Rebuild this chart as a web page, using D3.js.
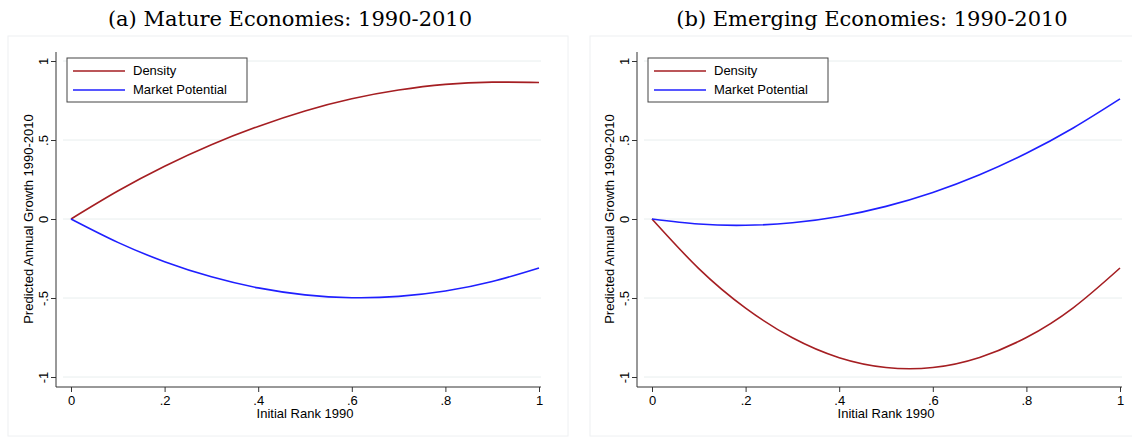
<!DOCTYPE html>
<html lang="en">
<head>
<meta charset="utf-8">
<title>Predicted growth</title>
<script src="https://d3js.org/d3.v7.min.js"></script>
<style>
  body { margin: 0; background: #fff; }
  text { font-family: "Liberation Sans", Arial, sans-serif; }
</style>
</head>
<body>
<script>
var w = 1132, h = 440;

// values
var rank = [0, .1, .2, .3, .4, .5, .6, .7, .8, .9, 1];
var matureDensity = [0, .177, .334, .470, .586, .684, .761, .816, .852, .866, .864];
var matureMarket = [0, -.148, -.270, -.366, -.436, -.480, -.498, -.490, -.456, -.396, -.31];
var emergDensity = [0, -.314, -.564, -.752, -.878, -.940, -.940, -.876, -.750, -.562, -.31];
var emergMarket = [0, -.032, -.040, -.024, .016, .080, .168, .280, .416, .576, .76];
var xTicks = [0, .2, .4, .6, .8, 1];
var yTicks = [-1, -.5, 0, .5, 1];
var seriesNames = ["Density", "Market Potential"];
var colors = ["#a51e22", "#1f1fff"];

var panels = [
  {title: "(a) Mature Economies: 1990-2010", left: 8, x0: 71, x1: 539, series: [matureDensity, matureMarket]},
  {title: "(b) Emerging Economies: 1990-2010", left: 590, x0: 652, x1: 1120, series: [emergDensity, emergMarket]}
];

var fmt = function(d) { return d === 0 || Math.abs(d) === 1 ? String(d) : String(d).replace("0.", "."); };

var svg = d3.select("body").append("svg").attr("width", w).attr("height", h);

panels.forEach(function(p) {
  var g = svg.append("g");
  g.append("rect").attr("x", p.left).attr("y", 36).attr("width", 560).attr("height", 400)
    .attr("fill", "#fff").attr("stroke", "#eef0f2");

  g.append("text").attr("x", p.left + 282).attr("y", 26).attr("text-anchor", "middle")
    .style("font-family", "'DejaVu Serif', 'Liberation Serif', serif").style("font-size", "21px")
    .text(p.title);

  var x = d3.scaleLinear().domain([0, 1]).range([p.x0, p.x1]);
  var y = d3.scaleLinear().domain([-1, 1]).range([377, 61]);

  // grid
  g.selectAll(".grid").data(yTicks).enter().append("line")
    .attr("x1", p.x0 - 8).attr("x2", p.x1 + 2)
    .attr("y1", function(d) { return y(d); }).attr("y2", function(d) { return y(d); })
    .attr("stroke", "#e8eeee").attr("stroke-width", 1);

  var ax = g.append("g").attr("transform", "translate(0,387)")
    .call(d3.axisBottom(x).tickValues(xTicks).tickFormat(fmt).tickSize(5));
  ax.select(".domain").attr("d", "M" + (p.x0 - 15) + ",0H" + (p.x1 + 2));
  ax.selectAll("text").style("font-size", "13px").attr("y", 6).attr("dy", "0.9em");
  ax.selectAll("line, .domain").attr("stroke", "#333");

  var ay = g.append("g").attr("transform", "translate(" + (p.x0 - 15) + ",0)")
    .call(d3.axisLeft(y).tickValues(yTicks).tickFormat(fmt).tickSize(5));
  ay.select(".domain").attr("d", "M0,387V52");
  ay.selectAll("line, .domain").attr("stroke", "#333");
  ay.selectAll(".tick text").style("font-size", "13px")
    .attr("transform", "rotate(-90)").attr("x", 0).attr("y", -8).attr("dy", 0)
    .attr("text-anchor", "middle");

  g.append("text").attr("x", (p.x0 + p.x1) / 2).attr("y", 418).attr("text-anchor", "middle")
    .style("font-size", "13px").text("Initial Rank 1990");
  g.append("text").attr("transform", "translate(" + (p.x0 - 38) + "," + y(0) + ") rotate(-90)")
    .attr("text-anchor", "middle").style("font-size", "13px").text("Predicted Annual Growth 1990-2010");

  var line = d3.line().x(function(d, i) { return x(rank[i]); }).y(function(d) { return y(d); })
    .curve(d3.curveNatural);
  p.series.forEach(function(s, i) {
    g.append("path").datum(s).attr("d", line).attr("fill", "none")
      .attr("stroke", colors[i]).attr("stroke-width", 1.6);
  });

  // legend
  var lg = g.append("g").attr("transform", "translate(" + (p.x0 - 4) + ",58)");
  lg.append("rect").attr("width", 180).attr("height", 44).attr("fill", "#fff").attr("stroke", "#444");
  seriesNames.forEach(function(n, i) {
    lg.append("line").attr("x1", 6).attr("x2", 58).attr("y1", 13 + i * 19).attr("y2", 13 + i * 19)
      .attr("stroke", colors[i]).attr("stroke-width", 1.6);
    lg.append("text").attr("x", 66).attr("y", 17 + i * 19).style("font-size", "13px").text(n);
  });
});
</script>
</body>
</html>
